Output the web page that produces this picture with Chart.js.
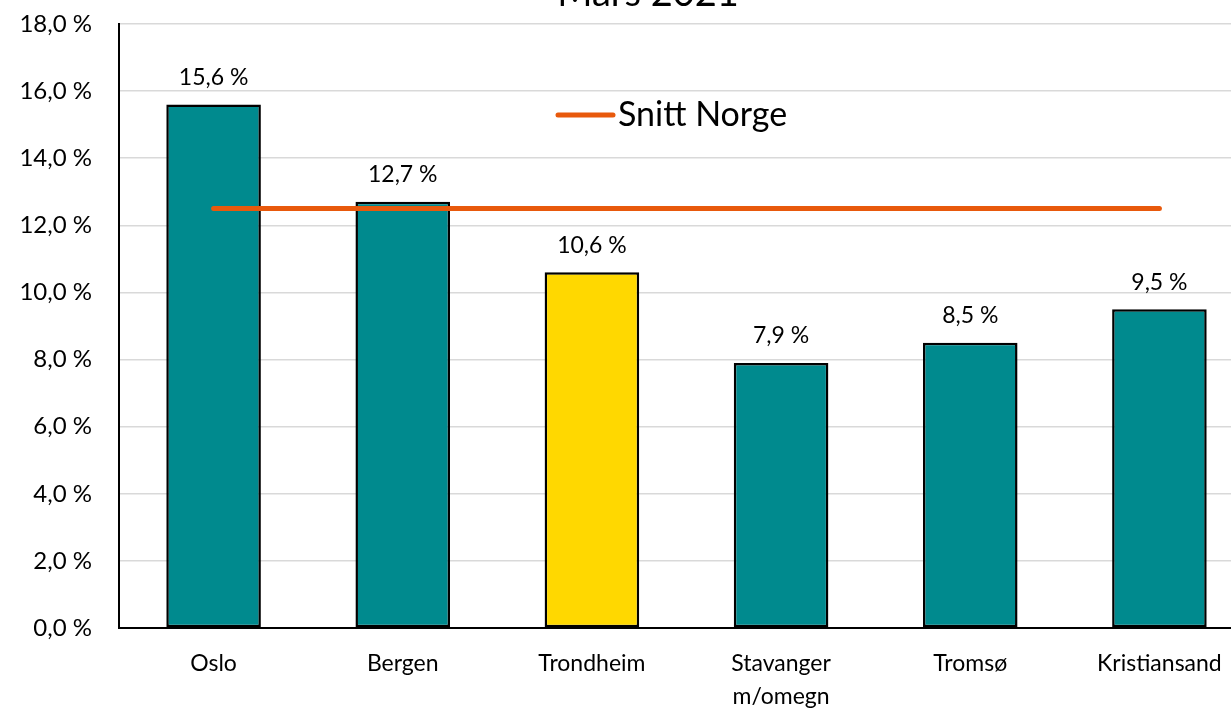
<!DOCTYPE html>
<html>
<head>
<meta charset="utf-8">
<script src="https://cdn.jsdelivr.net/npm/chart.js@4/dist/chart.umd.min.js"></script>
<style>
  html, body { margin: 0; padding: 0; background: #fff; overflow: hidden; }
  #wrap { position: absolute; left: 0; top: -40px; width: 1296px; height: 760px; }
</style>
</head>
<body>
<div id="wrap"><canvas id="chart" width="1296" height="760"></canvas></div>
<script>
// --- DATA ---
const titleText  = 'Mars 2021';
const cities     = ['Oslo', 'Bergen', 'Trondheim', ['Stavanger', 'm/omegn'], 'Tromsø', 'Kristiansand'];
const shares     = [15.6, 12.7, 10.6, 7.9, 8.5, 9.5];
const avgNorway  = [12.5, 12.5, 12.5, 12.5, 12.5, 12.5];
const lineLabel  = 'Snitt Norge';

const TEAL   = '#008a8e';
const YELLOW = '#ffd800';
const ORANGE = '#e8590c';
const FONT   = 'Lato, "Open Sans", sans-serif';

const fmt = v => v.toFixed(1).replace('.', ',') + ' %';

const barColors = cities.map(c => c === 'Trondheim' ? YELLOW : TEAL);

// title, value labels and legend drawn by hand
const extras = {
  id: 'extras',
  afterDatasetsDraw(chart) {
    const ctx = chart.ctx;
    ctx.save();

    // value labels above bars
    ctx.fillStyle = '#000';
    ctx.font = '23px ' + FONT;
    ctx.textAlign = 'center';
    ctx.textBaseline = 'middle';
    chart.getDatasetMeta(1).data.forEach((bar, i) => {
      ctx.fillText(fmt(shares[i]), bar.x, bar.y - 27);
    });

    // title (cut off at top like the original)
    ctx.font = '38px ' + FONT;
    ctx.textBaseline = 'alphabetic';
    ctx.fillText(titleText, 648, 46);

    // legend inside plot
    const lx = 558, ly = 155;
    ctx.strokeStyle = ORANGE;
    ctx.lineWidth = 5;
    ctx.lineCap = 'round';
    ctx.beginPath();
    ctx.moveTo(lx, ly);
    ctx.lineTo(lx + 55, ly);
    ctx.stroke();
    ctx.font = '34px ' + FONT;
    ctx.textAlign = 'left';
    ctx.textBaseline = 'middle';
    ctx.fillText(lineLabel, lx + 60, ly);

    ctx.restore();
  }
};

new Chart(document.getElementById('chart'), {
  data: {
    labels: cities,
    datasets: [
      {
        type: 'line',
        label: lineLabel,
        data: avgNorway,
        borderColor: ORANGE,
        borderWidth: 5,
        borderCapStyle: 'round',
        pointRadius: 0,
        fill: false,
        order: 0
      },
      {
        type: 'bar',
        label: 'Andel',
        data: shares,
        backgroundColor: barColors,
        borderColor: '#000',
        borderWidth: 2.5,
        borderSkipped: false,
        categoryPercentage: 1,
        barPercentage: 0.5,
        order: 1
      }
    ]
  },
  options: {
    responsive: false,
    animation: false,
    layout: { padding: { left: 0, right: 42, top: 64, bottom: 0 } },
    plugins: {
      legend: { display: false },
      title: { display: false },
      tooltip: { enabled: false }
    },
    scales: {
      x: {
        grid: { display: false, drawTicks: false },
        border: { color: '#000', width: 2 },
        ticks: {
          color: '#000',
          font: { family: FONT, size: 23, lineHeight: 1.45 },
          padding: 19,
          maxRotation: 0,
          autoSkip: false
        },
        afterFit(scale) { scale.height = 92; }
      },
      y: {
        min: 0,
        max: 18,
        grid: { color: '#d9d9d9', lineWidth: 1.5, drawTicks: false },
        border: { color: '#000', width: 2 },
        ticks: {
          stepSize: 2,
          color: '#000',
          font: { family: FONT, size: 24 },
          padding: 27,
          callback: v => fmt(v)
        },
        afterFit(scale) { scale.width = 119; }
      }
    }
  },
  plugins: [extras]
});
</script>
</body>
</html>
